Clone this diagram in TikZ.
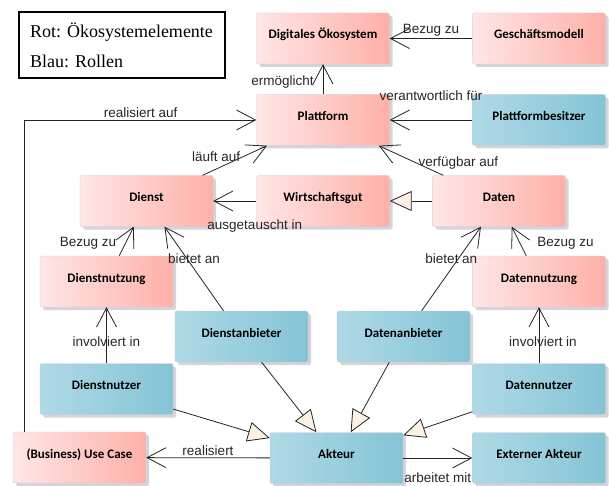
\documentclass[tikz,border=0pt]{standalone}
\usepackage{fontspec}
\usetikzlibrary{arrows.meta, shadows}
\newfontfamily\boxfont{Carlito}
\newfontfamily\lblfont{Liberation Sans}
\newfontfamily\legfont{Liberation Serif}
\definecolor{rotlinks}{RGB}{255,230,230}
\definecolor{rotrechts}{RGB}{255,176,168}
\definecolor{blaulinks}{RGB}{175,217,230}
\definecolor{blaurechts}{RGB}{132,196,214}
\definecolor{rahmen}{RGB}{205,205,210}
\definecolor{schatten}{RGB}{212,212,218}
\definecolor{gencreme}{RGB}{251,242,228}
\definecolor{linie}{RGB}{35,35,35}
\frenchspacing

\tikzset{
    element/.style={draw=rahmen, rounded corners=2pt, minimum width=133pt, minimum height=51pt, inner sep=0pt, text height=9pt, text depth=8pt, font=\boxfont\fontsize{13}{15}\selectfont\bfseries, drop shadow={shadow xshift=3pt, shadow yshift=-3pt, fill=schatten, opacity=1}},
    oeko/.style={element, left color=rotlinks, right color=rotrechts},
    rolle/.style={element, left color=blaulinks, right color=blaurechts},
    bez/.style={draw=linie, line width=0.8pt, -{Straight Barb[length=19pt, width=20pt]}},
    gen/.style={draw=linie, line width=0.8pt, -{Triangle[fill=gencreme, length=22pt, width=20pt]}},
    lbl/.style={font=\lblfont\fontsize{13.5}{15}\selectfont, inner sep=2pt, text=black!85}
}

\begin{document}
\begin{tikzpicture}[x=1pt, y=-1pt]
    \useasboundingbox (0, 0) rectangle (609, 486);

    \node[draw, line width=1.2pt, minimum width=206pt, minimum height=66pt, text width=184pt, inner xsep=11pt, align=left, font=\legfont\fontsize{18}{30}\selectfont] at (122, 45) (legende) {Rot: Ökosystemelemente\\Blau: Rollen};

    \node[oeko] at (323, 38.5) (dikosys) {Digitales Ökosystem};
    \node[oeko] at (539, 38.5) (geschmod) {Geschäftsmodell};
    \node[oeko] at (323, 120) (plattform) {Plattform};
    \node[rolle] at (539, 120) (pbesitzer) {Plattformbesitzer};
    \node[oeko] at (146.5, 201) (dienst) {Dienst};
    \node[oeko] at (323, 201) (wgut) {Wirtschaftsgut};
    \node[oeko] at (499, 201) (daten) {Daten};
    \node[oeko] at (106.5, 281.5) (dnutzung) {Dienstnutzung};
    \node[oeko] at (539, 281.5) (datnutzung) {Datennutzung};
    \node[rolle] at (241.5, 336.5) (danbieter) {Dienstanbieter};
    \node[rolle] at (403.5, 336.5) (datanbieter) {Datenanbieter};
    \node[rolle] at (106.5, 389) (dnutzer) {Dienstnutzer};
    \node[rolle] at (539, 389) (datnutzer) {Datennutzer};
    \node[oeko] at (79.5, 457.5) (usecase) {(Business) Use Case};
    \node[rolle] at (336.5, 458) (akteur) {Akteur};
    \node[rolle] at (539, 458) (extakteur) {Externer Akteur};

    \draw[bez] (geschmod) -- node[lbl, above] (l1) {Bezug zu} (dikosys);
    \draw[bez] (plattform) -- node[lbl, left=7pt, yshift=-3pt] (l2) {ermöglicht} (dikosys);
    \draw[bez] (pbesitzer) -- node[lbl, above=17pt] (l3) {verantwortlich für} (plattform);
    \draw[bez] (usecase.north west) ++(12, 0) |- node[lbl, pos=0.75, above] (l4) {realisiert auf} (plattform);
    \draw[bez] (dienst) -- node[lbl, pos=0.62, left] (l5) {läuft auf} (plattform);
    \draw[bez] (daten) -- node[lbl, pos=0.42, right] (l6) {verfügbar auf} (plattform);
    \draw[bez] (wgut) -- node[lbl, below=16pt, xshift=20pt] (l7) {ausgetauscht in} (dienst);
    \draw[gen] (daten) -- (wgut);
    \draw[bez] (dnutzung) -- node[lbl, pos=0.44, left=7pt] (l8) {Bezug zu} (dienst);
    \draw[bez] (danbieter) -- node[lbl, pos=0.62, xshift=7pt] (l9) {bietet an} (dienst);
    \draw[bez] (datanbieter) -- node[lbl, pos=0.62, xshift=-7pt] (l10) {bietet an} (daten);
    \draw[bez] (datnutzung) -- node[lbl, pos=0.44, right=15pt] (l11) {Bezug zu} (daten);
    \draw[bez] (dnutzer) -- node[lbl, pos=0.38] (l12) {involviert in} (dnutzung);
    \draw[bez] (datnutzer) -- node[lbl, pos=0.38, xshift=4pt] (l13) {involviert in} (datnutzung);
    \draw[gen] (dnutzer) -- (akteur);
    \draw[gen] (danbieter) -- (akteur);
    \draw[gen] (datanbieter) -- (akteur);
    \draw[gen] (datnutzer) -- (akteur);
    \draw[bez] (akteur) -- node[lbl, above] (l14) {realisiert} (usecase);
    \draw[bez] (akteur) -- node[lbl, below=12pt] (l15) {arbeitet mit} (extakteur);
\end{tikzpicture}
\end{document}
